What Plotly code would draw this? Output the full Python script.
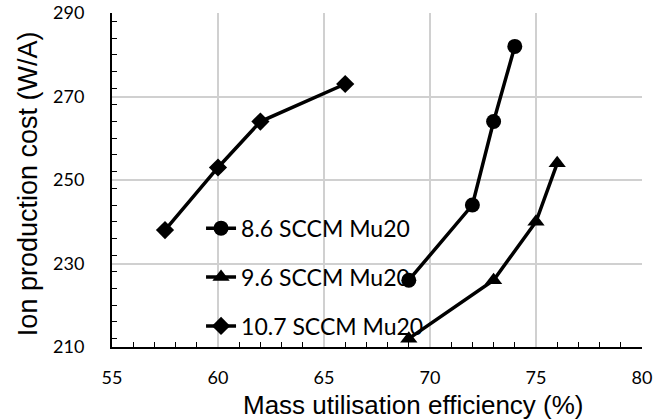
import plotly.graph_objects as go

x_86 = [69, 72, 73, 74]
y_86 = [226, 244, 264, 282]
x_96 = [69, 73, 75, 76]
y_96 = [212, 226, 240, 254]
x_107 = [57.5, 60, 62, 66]
y_107 = [238, 253, 264, 273]
names = ["8.6 SCCM Mu20", "9.6 SCCM Mu20", "10.7 SCCM Mu20"]
x_title = "Mass utilisation efficiency (%)"
y_title = "Ion production cost (W/A)"

fig = go.Figure()
series = [(x_86, y_86, "circle", 15), (x_96, y_96, "triangle-up", 15), (x_107, y_107, "diamond", 14)]
for i, (xs, ys, sym, sz) in enumerate(series):
    fig.add_trace(go.Scatter(
        x=xs, y=ys, mode="lines+markers", name=names[i], legendgroup=str(i),
        line=dict(color="black", width=3.5),
        marker=dict(symbol=sym, size=sz, color="black"),
        cliponaxis=False,
    ))

fig.update_layout(
    width=663, height=420,
    margin=dict(l=112, r=21, t=13, b=73),
    plot_bgcolor="white", paper_bgcolor="white",
    font=dict(family="Lato, sans-serif", color="black", size=18),
    legend=dict(x=0.168, y=0.42, xanchor="left", yanchor="top",
                bgcolor="rgba(0,0,0,0)", tracegroupgap=16,
                font=dict(family="Lato, sans-serif", size=23)),
    xaxis=dict(
        range=[55, 80], tick0=55, dtick=5, showgrid=True, gridcolor="#d0d0d0", gridwidth=2,
        showline=True, linecolor="black", linewidth=2, zeroline=False, automargin=False,
        ticks="", tickfont=dict(size=18), ticklabelstandoff=13,
        minor=dict(dtick=1, ticks="inside", ticklen=5, tickcolor="black", tickwidth=1.3),
    ),
    yaxis=dict(
        range=[210, 290], tick0=210, dtick=20, showgrid=True, gridcolor="#d0d0d0", gridwidth=2,
        showline=True, linecolor="black", linewidth=2, zeroline=False, automargin=False,
        ticks="outside", ticklen=22, tickcolor="rgba(0,0,0,0)", tickfont=dict(size=18),
        minor=dict(dtick=4, ticks="inside", ticklen=5, tickcolor="black", tickwidth=1.3),
    ),
    annotations=[
        dict(text=x_title, xref="paper", yref="paper", x=0.568, y=-0.174,
             xanchor="center", yanchor="middle", showarrow=False,
             font=dict(family="Liberation Sans, Arial", size=26, color="black")),
        dict(text=y_title, xref="paper", yref="paper", x=-0.157, y=0.49,
             xanchor="center", yanchor="middle", showarrow=False, textangle=-90,
             font=dict(family="Liberation Sans, Arial", size=27, color="black")),
    ],
)

fig.write_html("out.html")
